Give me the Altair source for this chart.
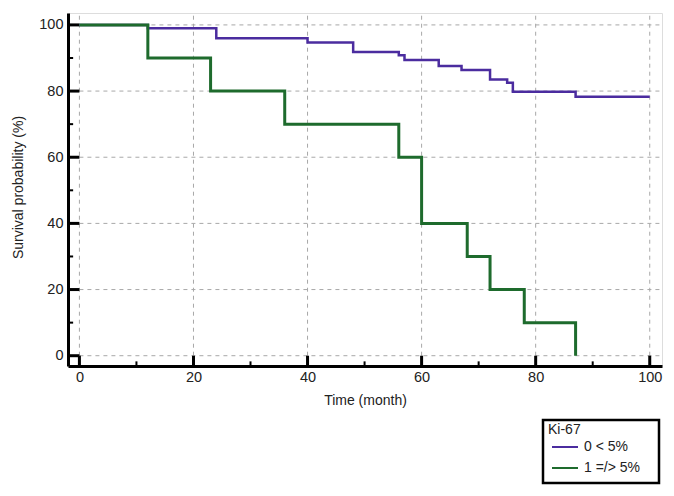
import altair as alt
import pandas as pd

# ---- data ----
GROUPS = ["0 < 5%", "1 =/> 5%"]
LOW_TIME = [0, 12, 24, 40, 48, 56, 57, 63, 67, 72, 75, 76, 87, 100]
LOW_SURV = [100, 99, 96, 94.7, 91.8, 90.8, 89.4, 87.6, 86.4, 83.5, 82.5, 79.8, 78.3, 78.3]
HIGH_TIME = [0, 12, 23, 36, 56, 60, 68, 72, 78, 87]
HIGH_SURV = [100, 90, 80, 70, 60, 40, 30, 20, 10, 0]
MAJOR = [0, 20, 40, 60, 80, 100]
MINOR = [10, 30, 50, 70, 90]
COLORS = ["#4b2c9f", "#1e6b2d"]

XMIN, XMAX = -2.0, 102.15
YMIN, YMAX = -3.11, 103.6
FONT = "Liberation Sans"

low = pd.DataFrame({"time": LOW_TIME, "surv": LOW_SURV, "group": GROUPS[0]})
high = pd.DataFrame({"time": HIGH_TIME, "surv": HIGH_SURV, "group": GROUPS[1]})
major = pd.DataFrame({"v": MAJOR})
minor = pd.DataFrame({"v": MINOR})

xs = alt.Scale(domain=[XMIN, XMAX], nice=False, zero=False)
ys = alt.Scale(domain=[YMIN, YMAX], nice=False, zero=False)

xaxis = alt.Axis(title="Time (month)", values=MAJOR, ticks=False, grid=False,
                 domainColor="#000000", domainWidth=3, labelFontSize=14.5,
                 labelColor="#222222", labelPadding=4, titleFontSize=14,
                 titleFontWeight="normal", titleColor="#222222", titleY=27,
                 labelFont=FONT, titleFont=FONT)
yaxis = alt.Axis(title="Survival probability (%)", values=MAJOR, ticks=False, grid=False,
                 domainColor="#000000", domainWidth=3, labelFontSize=14.5,
                 labelColor="#222222", labelPadding=5, titleFontSize=14,
                 titleFontWeight="normal", titleColor="#222222",
                 titleX=-43, titleY=174, labelFont=FONT, titleFont=FONT)

def X(field):
    return alt.X(field, type="quantitative", scale=xs, axis=xaxis)

def Y(field):
    return alt.Y(field, type="quantitative", scale=ys, axis=yaxis)

def XD(v):
    return alt.XDatum(v, scale=xs, axis=xaxis)

def YD(v):
    return alt.YDatum(v, scale=ys, axis=yaxis)

grid_style = dict(color="#a8a8a8", strokeWidth=1, strokeDash=[4, 4])

vgrid = alt.Chart(major).mark_rule(**grid_style).encode(
    x=X("v"), y=YD(0), y2=alt.Y2Datum(YMAX))
hgrid = alt.Chart(major).mark_rule(**grid_style).encode(
    y=Y("v"), x=XD(0), x2=alt.X2Datum(XMAX))

ytick_major = alt.Chart(major).mark_rule(color="#000000", strokeWidth=3).encode(
    y=Y("v"), x=XD(XMIN), x2=alt.X2Datum(0))
ytick_minor = alt.Chart(minor).mark_rule(color="#000000", strokeWidth=2).encode(
    y=Y("v"), x=XD(XMIN), x2=alt.X2Datum(XMIN + 0.9))
xtick_major = alt.Chart(major).mark_rule(color="#000000", strokeWidth=3).encode(
    x=X("v"), y=YD(YMIN), y2=alt.Y2Datum(0))
xtick_minor = alt.Chart(minor).mark_rule(color="#000000", strokeWidth=2).encode(
    x=X("v"), y=YD(YMIN), y2=alt.Y2Datum(YMIN + 1.4))

color = alt.Color(
    "group:N",
    scale=alt.Scale(domain=GROUPS, range=COLORS),
    legend=alt.Legend(
        title="Ki-67", orient="none", legendX=476, legendY=406,
        titleFontSize=14, titleFontWeight="normal", titleColor="#222222",
        titleFont=FONT, labelFont=FONT, labelFontSize=14, labelColor="#222222",
        symbolType="stroke", symbolSize=676, symbolStrokeWidth=2,
        symbolOffset=3, labelOffset=5, padding=4, rowPadding=-8, titlePadding=-4,
    ),
)

# frame around the legend (decoration only)
legend_frame = alt.Chart(pd.DataFrame({"k": [0]})).mark_rect(
    fill="#ffffff", stroke="#000000", strokeWidth=2.5
).encode(x=alt.value(475), x2=alt.value(591), y=alt.value(407), y2=alt.value(470))

line_low = alt.Chart(low).mark_line(interpolate="step-after", strokeWidth=2.5,
                                    strokeJoin="miter").encode(
    x=X("time"), y=Y("surv"), color=color)
line_high = alt.Chart(high).mark_line(interpolate="step-after", strokeWidth=3,
                                      strokeJoin="miter").encode(
    x=X("time"), y=Y("surv"), color=color)

chart = alt.layer(
    vgrid, hgrid, ytick_major, ytick_minor, xtick_major, xtick_minor,
    legend_frame, line_low, line_high
).properties(
    width=594, height=353,
    padding={"left": 60, "top": 5, "right": 4, "bottom": 122},
    autosize=alt.AutoSizeParams(type="none"),
    background="#ffffff",
).configure_view(stroke=None).configure(font=FONT)

chart.save("out.html", embed_options={"renderer": "svg", "actions": False})
